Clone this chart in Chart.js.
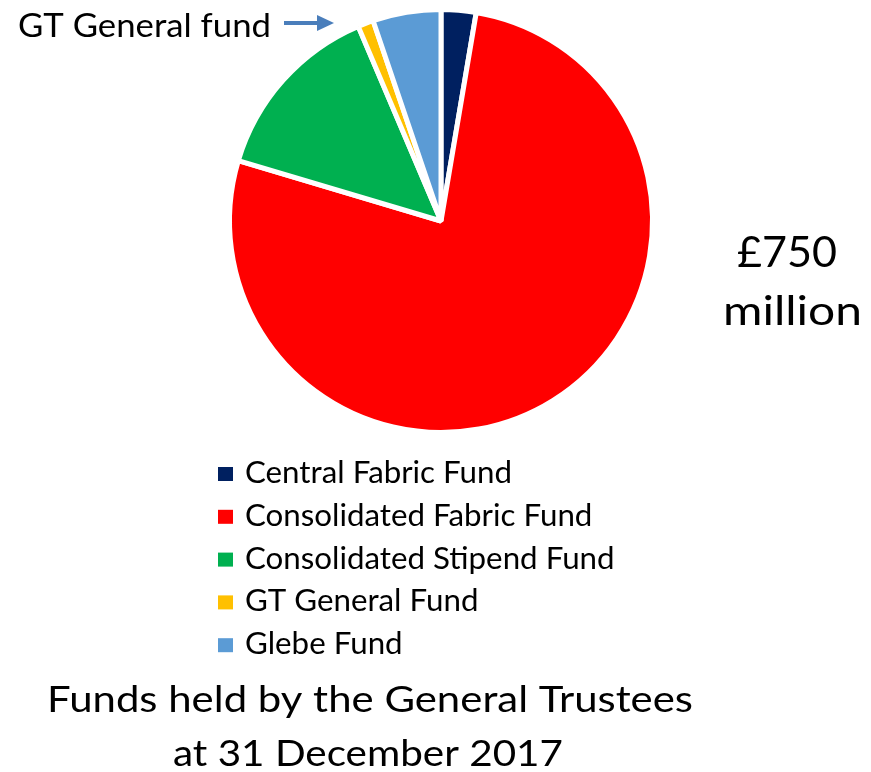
<!DOCTYPE html>
<html>
<head>
<meta charset="utf-8">
<script src="https://cdn.jsdelivr.net/npm/chart.js@4/dist/chart.umd.min.js"></script>
<style>
  html, body { margin: 0; padding: 0; background: #ffffff; }
  #wrap { position: relative; width: 871px; height: 772px; }
</style>
</head>
<body>
<div id="wrap"><canvas id="c"></canvas></div>
<script>
// ---- data ----
const categories = ["Central Fabric Fund", "Consolidated Fabric Fund", "Consolidated Stipend Fund", "GT General Fund", "Glebe Fund"];
const values = [20, 577, 105, 9, 39]; // £ million, total 750
const colors = ["#002060", "#FF0000", "#00B050", "#FFC000", "#5B9BD5"];
const totalLabel = ["£750", "million"];
const titleLines = ["Funds held by the General Trustees", "at 31 December 2017"];
const calloutLabel = "GT General fund";

const FONT = "Lato";
const CAP = 0.717;

function fitText(ctx, text, left, right, baseline, capH) {
  const size = capH / CAP;
  ctx.save();
  ctx.font = size + "px " + FONT;
  ctx.textBaseline = "alphabetic";
  ctx.textAlign = "left";
  const w = ctx.measureText(text).width;
  const sx = (right - left) / w;
  ctx.translate(left, baseline);
  ctx.scale(sx, 1);
  ctx.fillStyle = "#000000";
  ctx.fillText(text, 0, 0);
  ctx.restore();
}

const decor = {
  id: "decor",
  afterDraw(chart) {
    const ctx = chart.ctx;
    // legend (from chart data)
    const labels = chart.data.labels;
    const bg = chart.data.datasets[0].backgroundColor;
    const size = 22 / CAP;
    ctx.save();
    ctx.font = size + "px " + FONT;
    const sx = 267 / ctx.measureText(labels[0]).width;
    ctx.restore();
    labels.forEach((lab, i) => {
      const base = 483 + i * 42.8;
      ctx.fillStyle = bg[i];
      ctx.fillRect(218, base - 16, 15, 14);
      ctx.save();
      ctx.font = size + "px " + FONT;
      ctx.fillStyle = "#000";
      ctx.translate(245, base);
      ctx.scale(sx, 1);
      ctx.fillText(lab, 0, 0);
      ctx.restore();
    });
    // total label
    fitText(ctx, totalLabel[0], 737, 837, 267, 30);
    fitText(ctx, totalLabel[1], 723, 862, 325, 29);
    // title
    fitText(ctx, titleLines[0], 47, 693, 712, 27);
    fitText(ctx, titleLines[1], 173, 563, 766, 27);
    // callout
    fitText(ctx, calloutLabel, 18, 271, 37, 23);
    ctx.save();
    ctx.strokeStyle = "#4A7EBB";
    ctx.fillStyle = "#4A7EBB";
    ctx.lineWidth = 4;
    ctx.beginPath();
    ctx.moveTo(284, 23);
    ctx.lineTo(320, 23);
    ctx.stroke();
    ctx.beginPath();
    ctx.moveTo(317, 15);
    ctx.lineTo(334, 23);
    ctx.lineTo(317, 31);
    ctx.closePath();
    ctx.fill();
    ctx.restore();
  }
};

new Chart(document.getElementById("c"), {
  type: "pie",
  data: {
    labels: categories,
    datasets: [{
      data: values,
      backgroundColor: colors,
      borderColor: "#FFFFFF",
      borderWidth: 5,
      hoverOffset: 0
    }]
  },
  options: {
    responsive: true,
    maintainAspectRatio: false,
    animation: false,
    devicePixelRatio: 1,
    layout: { padding: { left: 227, right: 216, top: 7, bottom: 337 } },
    plugins: {
      legend: { display: false },
      tooltip: { enabled: false },
      title: { display: false }
    }
  },
  plugins: [decor]
});
</script>
</body>
</html>
